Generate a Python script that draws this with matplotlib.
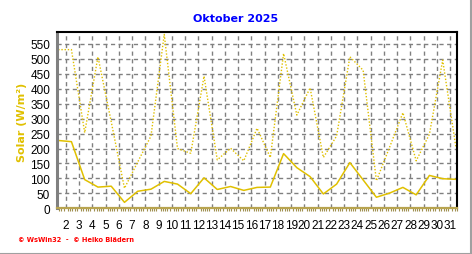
import matplotlib.pyplot as plt
from matplotlib.ticker import MultipleLocator
import numpy as np

days = np.arange(1, 32)
# daily mean solar radiation (solid) and daily max (dotted), W/m2
solar_mean = [227, 223, 96, 71, 74, 20, 57, 64, 90, 81, 49, 102, 63, 73, 60, 70,
              71, 183, 136, 106, 48, 81, 153, 95, 37, 51, 70, 45, 110, 99, 97]
solar_max = [531, 531, 253, 507, 290, 67, 155, 242, 582, 200, 184, 442, 162, 201, 159, 268,
             170, 518, 312, 403, 170, 242, 507, 462, 92, 205, 320, 159, 248, 496, 203]
y_ticks = list(range(0, 551, 50))
x_labels = list(range(2, 32))

gold = "#e0c000"

fig = plt.figure(figsize=(4.72, 2.55), dpi=100)
ax = fig.add_axes([0.1208, 0.1792, 0.8480, 0.6914])

x = days + 0.43
ax.plot(x, solar_max, color=gold, lw=1.0, ls=(0, (1, 1.3)))
ax.plot(x, solar_mean, color=gold, lw=1.1)

ax.set_xlim(1.343, 31.53)
ax.set_ylim(0, 590)
ax.set_yticks(y_ticks)
ax.set_xticks(x_labels)
ax.set_xticklabels([str(d) for d in x_labels])
ax.xaxis.set_minor_locator(MultipleLocator(1 / 6))

ax.grid(True, color="#808080", ls=(0, (3, 2.5)), lw=1)
ax.set_axisbelow(True)

ax.tick_params(axis="x", which="major", length=0, pad=8, labelsize=8.5)
ax.tick_params(axis="x", which="minor", length=2, direction="out", color="#a09050", width=0.8)
ax.tick_params(axis="y", length=0, pad=5, labelsize=8.5)
for lab in ax.get_xticklabels() + ax.get_yticklabels():
    lab.set_family("Liberation Sans")

ax.spines["left"].set_color("#808080")
ax.spines["left"].set_linewidth(2.2)
ax.spines["bottom"].set_color("#b8a450")
ax.spines["bottom"].set_linewidth(1.6)
ax.spines["top"].set_color("black")
ax.spines["top"].set_linewidth(1.5)
ax.spines["right"].set_color("black")
ax.spines["right"].set_linewidth(1.5)

fig.text(0.5, 1 - 19 / 255, "Oktober 2025", color="#0000ff", fontsize=8,
         fontweight="bold", ha="center", va="center")
fig.text(22 / 472, 1 - 122 / 255, "Solar (W/m²)", color=gold, fontsize=8,
         fontweight="bold", rotation=90, ha="center", va="center")
fig.text(18 / 472, 1 - 240 / 255, "© WsWin32  -  © Heiko Blädern", color="#ff0000",
         fontsize=4.8, fontweight="bold", ha="left", va="center")

# grey frame at right and bottom of picture
fig.add_artist(plt.Line2D([0, 1], [0.5 / 255, 0.5 / 255], color="#a0a0a0", lw=1.5,
                          transform=fig.transFigure))
fig.add_artist(plt.Line2D([1 - 1.5 / 472, 1 - 1.5 / 472], [0, 1], color="#a0a0a0", lw=1.5,
                          transform=fig.transFigure))

fig.savefig("out.png", dpi=100)
